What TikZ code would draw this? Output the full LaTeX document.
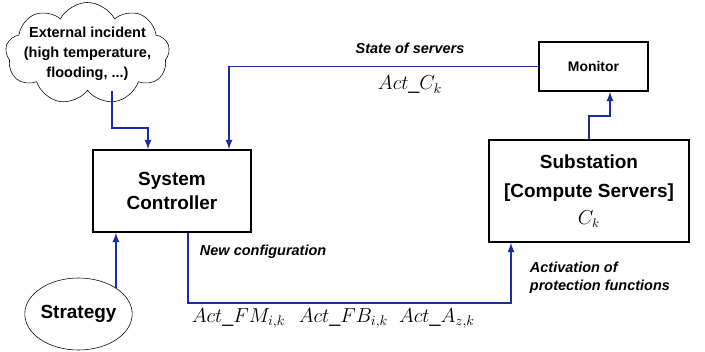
\documentclass[tikz,border=0pt]{standalone}
\usepackage{fontspec}
\setmainfont{Liberation Sans}
\usetikzlibrary{shapes.geometric,shapes.symbols}
\definecolor{flowblue}{RGB}{25,45,160}

\begin{document}
\begin{tikzpicture}[x={(0.025cm,0)}, y={(0,-0.025cm)},
  box/.style={draw, line width=1.1pt, align=center, font=\fontsize{13.5}{16.5}\selectfont\bfseries},
  flow/.style={draw=flowblue, line width=1.3pt, -latex},
  lbl/.style={font=\fontsize{10.3}{12.5}\selectfont\bfseries\itshape, align=left},
  act/.style={font=\fontsize{14}{16}\selectfont}]

\useasboundingbox (0,0) rectangle (705,351);

\node[cloud, draw, cloud puffs=9, cloud puff arc=125, cloud ignores aspect,
  inner xsep=-40pt, inner ysep=-25pt, minimum width=4.1cm, minimum height=2.55cm,
  align=center, font=\fontsize{10.3}{14.2}\selectfont\bfseries] (cloud) at (87.5,53.5)
  {External incident\\(high temperature,\\flooding, ...)};
\node[box, minimum width=3.95cm, minimum height=2.05cm] (ctrl) at (172,191) {System\\Controller};
\node[box, minimum width=5cm, minimum height=2.55cm, font=\fontsize{13.5}{21}\selectfont\bfseries] (sub) at (589,191)
  {Substation\\{}[Compute Servers]\\[-2pt]\mdseries$C_k$};
\node[box, minimum width=2.725cm, minimum height=1.225cm, font=\fontsize{9.9}{12}\selectfont\bfseries] (mon) at (593.5,66.5) {Monitor};
\node[ellipse, draw, minimum width=2.675cm, minimum height=1.8cm, inner sep=0pt,
  font=\fontsize{13.5}{16}\selectfont\bfseries] (strat) at (78.5,314) {Strategy};

% connectors
\coordinate (k1) at (112,128);
\coordinate (k2) at (148,128);
\coordinate (k3) at (229,66.5);
\coordinate (k4) at (589,116);
\coordinate (k5) at (610,116);
\coordinate (k6) at (188,303);
\coordinate (k7) at (511,303);

\draw[flow] (k1 |- cloud.south) -- (k1) -- (k2) -- (k2 |- ctrl.north);
\draw[flow] (mon.west) -- (k3) -- (k3 |- ctrl.north);
\draw[flow] (k4 |- sub.north) -- (k4) -- (k5) -- (k5 |- mon.south);
\draw[flow] (k6 |- ctrl.south) -- (k6) -- (k7) -- (k7 |- sub.south);
\draw[flow] (strat.35) -- (strat.35 |- ctrl.south);

% labels
\node[lbl] (state) at (410,48) {State of servers};
\node[act] (actc) at (410,85) {$Act\_C_k$};
\node[lbl, anchor=west] (newcfg) at (195,252) {New configuration};
\node[lbl, anchor=west] (activ) at (525,277.5) {Activation of\\protection functions};
\node[act] (actfm) at (238.5,318) {$Act\_FM_{i,k}$};
\node[act] (actfb) at (343.5,318) {$Act\_FB_{i,k}$};
\node[act] (acta) at (437,318) {$Act\_A_{z,k}$};

\end{tikzpicture}
\end{document}
